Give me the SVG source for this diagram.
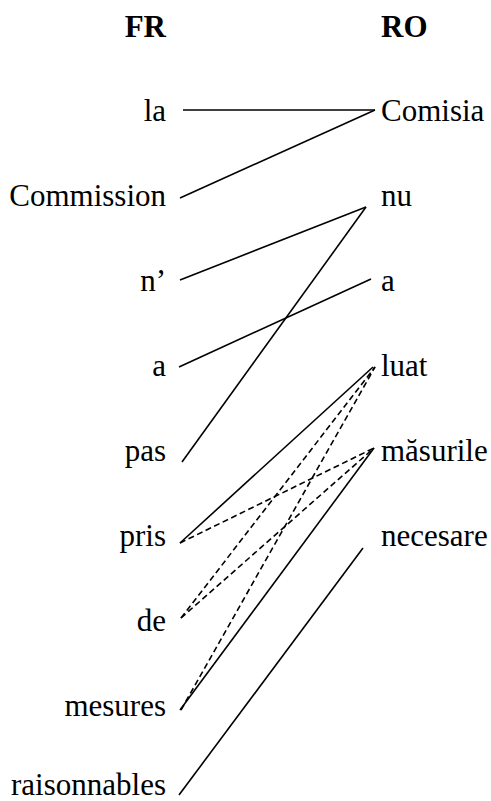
<svg xmlns="http://www.w3.org/2000/svg" width="491" height="801" viewBox="0 0 491 801">
<style>
text{font-family:"Liberation Serif","Times New Roman","DejaVu Serif",serif;font-size:31px;fill:#000}
.h{font-weight:bold}
.l{text-anchor:end}
.s{stroke:#000;stroke-width:1.6;fill:none}
.d{stroke:#000;stroke-width:1.6;fill:none;stroke-dasharray:6 3.5}
</style>
<rect width="491" height="801" fill="#fff"/>
<g id="headers" font-family="Liberation Serif, serif">
<text class="h l" x="166" y="37">FR</text>
<text class="h" x="381" y="37">RO</text>
</g>
<g id="fr-la" font-family="Liberation Serif, serif"><text class="l" x="166" y="121">la</text></g>
<g id="fr-commission" font-family="Liberation Serif, serif"><text class="l" x="166" y="206">Commission</text></g>
<g id="fr-n" font-family="Liberation Serif, serif"><text class="l" x="166" y="291">n’</text></g>
<g id="fr-a" font-family="Liberation Serif, serif"><text class="l" x="166" y="376">a</text></g>
<g id="fr-pas" font-family="Liberation Serif, serif"><text class="l" x="166" y="461">pas</text></g>
<g id="fr-pris" font-family="Liberation Serif, serif"><text class="l" x="166" y="546">pris</text></g>
<g id="fr-de" font-family="Liberation Serif, serif"><text class="l" x="166" y="631">de</text></g>
<g id="fr-mesures" font-family="Liberation Serif, serif"><text class="l" x="166" y="716">mesures</text></g>
<g id="fr-raisonnables" font-family="Liberation Serif, serif"><text class="l" x="166" y="795">raisonnables</text></g>
<g id="ro-comisia" font-family="Liberation Serif, serif"><text x="381" y="121">Comisia</text></g>
<g id="ro-nu" font-family="Liberation Serif, serif"><text x="381" y="206">nu</text></g>
<g id="ro-a" font-family="Liberation Serif, serif"><text x="381" y="291">a</text></g>
<g id="ro-luat" font-family="Liberation Serif, serif"><text x="381" y="376">luat</text></g>
<g id="ro-masurile" font-family="Liberation Serif, serif"><text x="381" y="461">măsurile</text></g>
<g id="ro-necesare" font-family="Liberation Serif, serif"><text x="381" y="546">necesare</text></g>
<g id="connectors">
<line class="s" x1="183" y1="110" x2="375" y2="110"/>
<line class="s" x1="180" y1="198" x2="375" y2="110"/>
<line class="s" x1="180" y1="280" x2="366" y2="207"/>
<line class="s" x1="182" y1="462" x2="366" y2="207"/>
<line class="s" x1="179" y1="367" x2="371" y2="279"/>
<line class="s" x1="180" y1="543" x2="373" y2="367"/>
<line class="s" x1="180" y1="710" x2="374" y2="448"/>
<line class="s" x1="179" y1="795" x2="363" y2="548"/>
<line class="d" x1="180" y1="543" x2="374" y2="448"/>
<line class="d" x1="181" y1="618" x2="375" y2="367"/>
<line class="d" x1="181" y1="618" x2="374" y2="448"/>
<line class="d" x1="181" y1="710" x2="375" y2="367"/>
</g>
</svg>
